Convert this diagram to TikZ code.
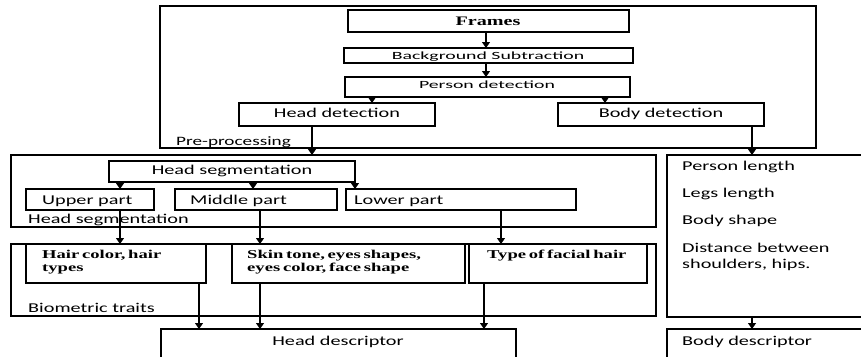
\documentclass[tikz,border=0pt]{standalone}
\usepackage{fontspec}
\setmainfont{Carlito}
\newfontfamily\sansA[FakeStretch=1.5]{Carlito}
\newfontfamily\sansB[FakeStretch=1.8]{Carlito}
\newfontfamily\serifA[FakeStretch=1.55,WordSpace=0.6]{Liberation Serif}
\usetikzlibrary{arrows.meta}
\begin{document}
\begin{tikzpicture}[x=1pt,y=-1pt,
  box/.style={draw, line width=1.3pt, inner sep=0pt, outer sep=0pt, anchor=north west},
  sl/.style={inner sep=0pt, anchor=base west, font=\sansA\fontsize{13.5}{16}\selectfont},
  sc/.style={inner sep=0pt, anchor=base, font=\sansA\fontsize{13.5}{16}\selectfont},
  sw/.style={inner sep=0pt, anchor=base, font=\sansB\fontsize{11}{13}\selectfont},
  sf/.style={inner sep=0pt, anchor=base west, font=\serifA\bfseries\fontsize{12}{14}\selectfont},
  arr/.style={line width=1.2pt, -{Triangle[length=6pt,width=8pt]}}]
\useasboundingbox (0,0) rectangle (861,356);
\clip (0,0) rectangle (861,356);
% boxes
\node[box, minimum width=656pt, minimum height=142pt] (pre) at (160,6) {};
\node[box, minimum width=281pt, minimum height=22pt] (frames) at (348,10) {};
\node[box, minimum width=289pt, minimum height=15pt] (bg) at (344,48) {};
\node[box, minimum width=285pt, minimum height=20pt] (person) at (345,77) {};
\node[box, minimum width=196pt, minimum height=23pt] (headdet) at (239,103) {};
\node[box, minimum width=206pt, minimum height=23pt] (bodydet) at (558,103) {};
\node[box, minimum width=645pt, minimum height=72pt] (hsouter) at (11,155) {};
\node[box, minimum width=246pt, minimum height=21pt] (hsinner) at (109,161) {};
\node[box, minimum width=128pt, minimum height=21pt] (upper) at (26,189) {};
\node[box, minimum width=162pt, minimum height=21pt] (middle) at (175,189) {};
\node[box, minimum width=230pt, minimum height=21pt] (lower) at (346,189) {};
\node[box, minimum width=205pt, minimum height=162pt] (bodybox) at (667,155) {};
\node[box, minimum width=645pt, minimum height=72pt] (bio) at (11,244) {};
\node[box, minimum width=180pt, minimum height=39pt] (hair) at (26,244) {};
\node[box, minimum width=233pt, minimum height=39pt] (skin) at (232,244) {};
\node[box, minimum width=178pt, minimum height=39pt] (facial) at (469,244) {};
\node[box, minimum width=355pt, minimum height=40pt] (headdesc) at (161,329) {};
\node[box, minimum width=205pt, minimum height=40pt] (bodydesc) at (667,329) {};
% texts
\node[inner sep=0pt, anchor=base, font=\serifA\bfseries\fontsize{13}{15}\selectfont] (tframes) at (488,25) {Frames};
\node[sw] (tbg) at (488,59) {Background Subtraction};
\node[sw] (tperson) at (487,88) {Person detection};
\node[sc] (theaddet) at (337,117) {Head detection};
\node[sc] (tbodydet) at (661,117) {Body detection};
\node[sl, font=\sansA\fontsize{12.8}{15}\selectfont] (tpre) at (176,145) {Pre-processing};
\node[sc] (thsinner) at (232,174) {Head segmentation};
\node[sl] (tupper) at (42,204) {Upper part};
\node[sl] (tmiddle) at (190,204) {Middle part};
\node[sl] (tlower) at (354,204) {Lower part};
\node[sl] (ths) at (28,223) {Head segmentation};
\node[sf] (thair1) at (42,258) {Hair color, hair};
\node[sf] (thair2) at (42,271) {types};
\node[sf] (tskin1) at (247,258) {Skin tone, eyes shapes,};
\node[sf] (tskin2) at (247,271) {eyes color, face shape};
\node[sf] (tfacial) at (487,258) {Type of facial hair};
\node[sl] (tbio) at (28,312) {Biometric traits};
\node[sc] (theaddesc) at (338,345) {Head descriptor};
\node[sl] (tb1) at (682,170) {Person length};
\node[sl] (tb2) at (682,197) {Legs length};
\node[sl] (tb3) at (682,224) {Body shape};
\node[sl] (tb4) at (682,252) {Distance between};
\node[sl] (tb5) at (682,268) {shoulders, hips.};
\node[sl] (tbodydesc) at (682,345) {Body descriptor};
% arrow columns
\coordinate (xa) at (486,0);
\coordinate (xb) at (372,0);
\coordinate (xc) at (605,0);
\coordinate (xd) at (312,0);
\coordinate (xe) at (752,0);
\coordinate (xf) at (120,0);
\coordinate (xg) at (253,0);
\coordinate (xh) at (355,0);
\coordinate (xi) at (260,0);
\coordinate (xj) at (501,0);
\coordinate (xk) at (199,0);
\coordinate (xl) at (484,0);
% arrows
\draw[arr] (frames.south -| xa) -- (bg.north -| xa);
\draw[arr] (bg.south -| xa) -- (person.north -| xa);
\draw[arr] (person.south -| xb) -- (headdet.north -| xb);
\draw[arr] (person.south -| xc) -- (bodydet.north -| xc);
\draw[arr] (headdet.south -| xd) -- (hsouter.north -| xd);
\draw[arr] (bodydet.south -| xe) -- (bodybox.north -| xe);
\draw[arr] (hsinner.south -| xf) -- (upper.north -| xf);
\draw[arr] (hsinner.south -| xg) -- (middle.north -| xg);
\draw[arr] (hsinner.south -| xh) -- (lower.north -| xh);
\draw[arr] (upper.south -| xf) -- (hair.north -| xf);
\draw[arr] (middle.south -| xi) -- (skin.north -| xi);
\draw[arr] (lower.south -| xj) -- (facial.north -| xj);
\draw[arr] (hair.south -| xk) -- (headdesc.north -| xk);
\draw[arr] (skin.south -| xi) -- (headdesc.north -| xi);
\draw[arr] (facial.south -| xl) -- (headdesc.north -| xl);
\draw[arr] (bodybox.south -| xe) -- (bodydesc.north -| xe);
\end{tikzpicture}
\end{document}
